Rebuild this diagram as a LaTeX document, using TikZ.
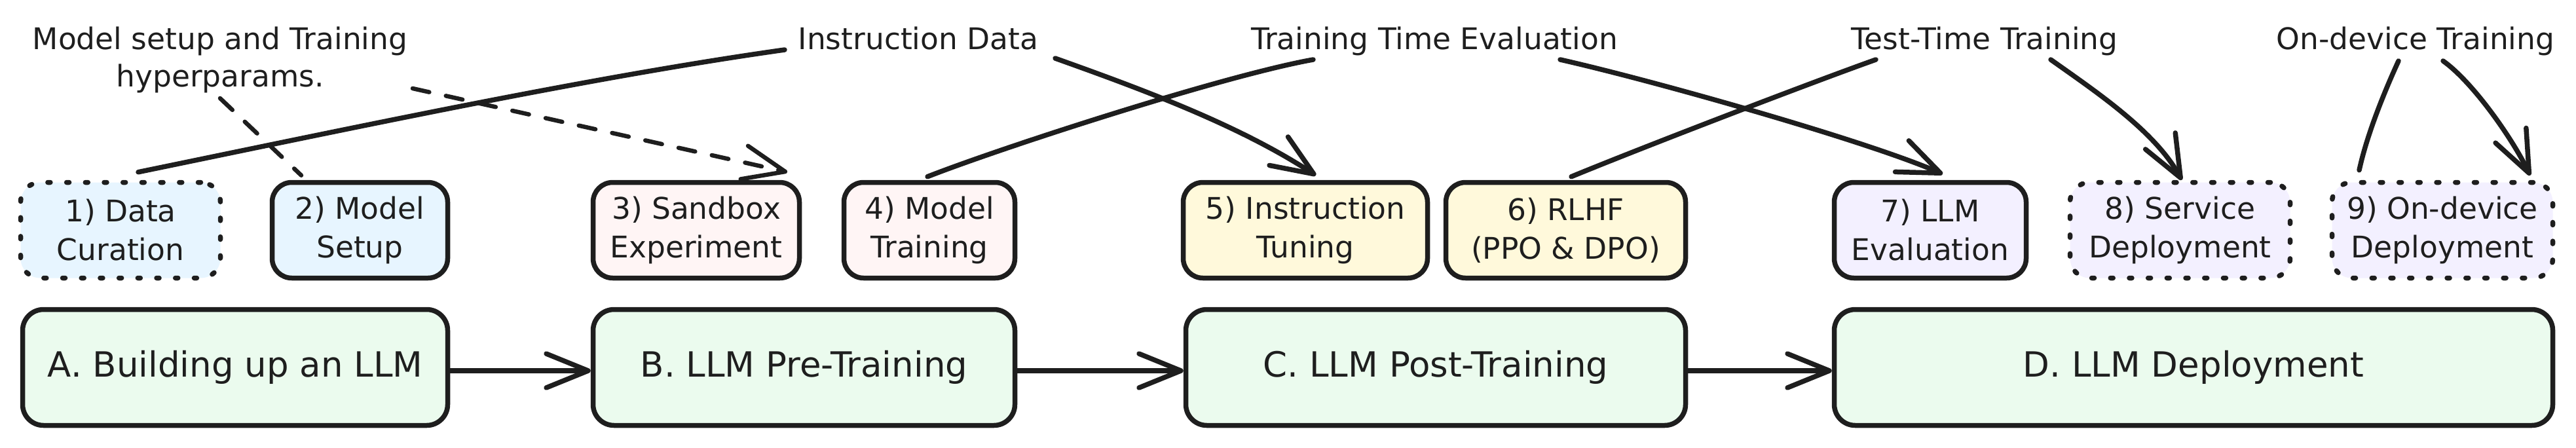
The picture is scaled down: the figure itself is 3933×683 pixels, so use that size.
\documentclass[tikz,border=0pt]{standalone}
\usepackage{fontspec}
\setmainfont{DejaVu Sans}
\usetikzlibrary{arrows.meta}
\definecolor{ink}{HTML}{1E1E1E}
\definecolor{bluefill}{HTML}{E7F5FF}
\definecolor{pinkfill}{HTML}{FFF5F5}
\definecolor{yellowfill}{HTML}{FFF9DB}
\definecolor{purplefill}{HTML}{F3F0FF}
\definecolor{greenfill}{HTML}{EBFBEE}
\begin{document}
\begin{tikzpicture}[x=1pt,y=-1pt,
  box/.style={draw=ink, line width=7.5pt, rounded corners=30pt, inner sep=0pt,
    minimum height=146pt, align=center, text=ink, font=\fontsize{45.5pt}{59pt}\selectfont},
  bigbox/.style={draw=ink, line width=7.5pt, rounded corners=32pt, fill=greenfill, inner sep=0pt,
    minimum height=177pt, text=ink, font=\fontsize{53pt}{62pt}\selectfont},
  dotline/.style={dash pattern=on 4pt off 24.7pt, line cap=round},
  lbl/.style={inner sep=0pt, text=ink, font=\fontsize{45.5pt}{57pt}\selectfont, align=center},
  conn/.style={draw=ink, line width=7.5pt, line cap=round},
  dashconn/.style={conn, line width=6.5pt, dash pattern=on 26pt off 26pt},
  headed/.style={-{Straight Barb[length=64pt,width=52pt,round]}},
]
\useasboundingbox (0,0) rectangle (3933,683);

% labels
\node[lbl] (setup) at (336,91) {Model setup and Training\\hyperparams.};
\node[lbl, anchor=base] (instr) at (1402,75) {Instruction Data};
\node[lbl, anchor=base] (tte) at (2190,75) {Training Time Evaluation};
\node[lbl, anchor=base] (ttt) at (3030,75) {Test-Time Training};
\node[lbl, anchor=base] (odt) at (3688,75) {On-device Training};

% top row boxes
\node[box, dotline, fill=bluefill, minimum width=305pt] (b1) at (184,351.5) {1) Data\\Curation};
\node[box, fill=bluefill, minimum width=268pt] (b2) at (549.5,351.5) {2) Model\\Setup};
\node[box, fill=pinkfill, minimum width=315pt] (b3) at (1063,351.5) {3) Sandbox\\Experiment};
\node[box, fill=pinkfill, minimum width=261pt] (b4) at (1419,351.5) {4) Model\\Training};
\node[box, fill=yellowfill, minimum width=373pt] (b5) at (1993,351.5) {5) Instruction\\Tuning};
\node[box, fill=yellowfill, minimum width=366pt] (b6) at (2390.5,351.5) {6) RLHF\\(PPO \& DPO)};
\node[box, fill=purplefill, minimum width=293pt] (b7) at (2947,351.5) {7) LLM\\Evaluation};
\node[box, dotline, fill=purplefill, minimum width=336pt] (b8) at (3328.5,351.5) {8) Service\\Deployment};
\node[box, dotline, fill=purplefill, minimum width=337pt] (b9) at (3729,351.5) {9) On-device\\Deployment};

% bottom row boxes
\node[bigbox, minimum width=649pt] (A) at (359,561) {A. Building up an LLM};
\node[bigbox, minimum width=644pt] (B) at (1227.5,561) {B. LLM Pre-Training};
\node[bigbox, minimum width=763pt] (C) at (2192,561) {C. LLM Post-Training};
\node[bigbox, minimum width=1097pt] (D) at (3349,561) {D. LLM Deployment};

% bottom arrows
\draw[conn, headed] ([yshift=-5pt]A.east) -- ([yshift=-5pt]A.east -| B.west);
\draw[conn, headed] ([yshift=-5pt]B.east) -- ([yshift=-5pt]B.east -| C.west);
\draw[conn, headed] ([yshift=-5pt]C.east) -- ([yshift=-5pt]C.east -| D.west);

% dashed connectors
\draw[dashconn] ([yshift=-59pt]setup.center) -- ([xshift=-89.5pt,yshift=7pt]b2.north);
\draw[dashconn, headed] ([xshift=294pt,yshift=-44pt]setup.center) -- ([xshift=139pt,yshift=12pt]b3.north);

% curved connectors
\draw[conn] ([xshift=27pt,yshift=12pt]b1.north) .. controls (540,195) and (900,118) .. ([xshift=-204pt,yshift=-1pt]instr.base);
\draw[conn, headed] ([xshift=209pt,yshift=-14pt]instr.base) .. controls (1740,135) and (1890,190) .. ([xshift=16pt,yshift=7pt]b5.north);
\draw[conn] ([xshift=-185pt,yshift=-16pt]tte.base) .. controls (1870,115) and (1530,225) .. ([xshift=-3pt,yshift=5pt]b4.north);
\draw[conn, headed] ([xshift=192pt,yshift=-16pt]tte.base) .. controls (2520,122) and (2850,215) .. ([xshift=19pt,yshift=9pt]b7.north);
\draw[conn] ([xshift=8.5pt,yshift=5pt]b6.north) .. controls (2500,228) and (2760,128) .. ([xshift=-166pt,yshift=-16pt]ttt.base);
\draw[conn, headed] ([xshift=101pt,yshift=-16pt]ttt.base) .. controls (3200,140) and (3290,200) .. ([xshift=2.5pt]b8.north);
\draw[conn] ([xshift=-26pt,yshift=-18pt]odt.base) .. controls (3645,130) and (3615,200) .. ([xshift=-127pt,yshift=15pt]b9.north);
\draw[conn, headed] ([xshift=42pt,yshift=-18pt]odt.base) .. controls (3775,125) and (3835,210) .. ([xshift=134pt,yshift=7pt]b9.north);
\end{tikzpicture}
\end{document}
